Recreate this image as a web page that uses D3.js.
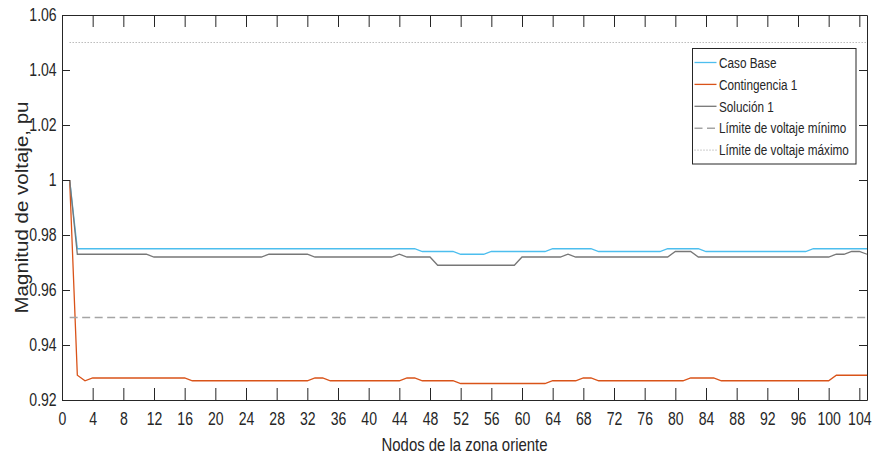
<!DOCTYPE html>
<html>
<head>
<meta charset="utf-8">
<script src="https://cdn.jsdelivr.net/npm/d3@7"></script>
<style>
  body { margin: 0; background: #fff; }
  svg { display: block; font-family: "Liberation Sans", Arial, sans-serif; }
  .axis text { fill: #262626; }
  .axis path, .axis line { stroke: #262626; }
</style>
</head>
<body>
<svg id="chart" width="873" height="454"></svg>
<script>
// voltage per node (pu), nodes 1..105, ten per row
const casoBase = [
  1.000, 0.975, 0.975, 0.975, 0.975, 0.975, 0.975, 0.975, 0.975, 0.975,
  0.975, 0.975, 0.975, 0.975, 0.975, 0.975, 0.975, 0.975, 0.975, 0.975,
  0.975, 0.975, 0.975, 0.975, 0.975, 0.975, 0.975, 0.975, 0.975, 0.975,
  0.975, 0.975, 0.975, 0.975, 0.975, 0.975, 0.975, 0.975, 0.975, 0.975,
  0.975, 0.975, 0.975, 0.975, 0.975, 0.975, 0.974, 0.974, 0.974, 0.974,
  0.974, 0.973, 0.973, 0.973, 0.973, 0.974, 0.974, 0.974, 0.974, 0.974,
  0.974, 0.974, 0.974, 0.975, 0.975, 0.975, 0.975, 0.975, 0.975, 0.974,
  0.974, 0.974, 0.974, 0.974, 0.974, 0.974, 0.974, 0.974, 0.975, 0.975,
  0.975, 0.975, 0.975, 0.974, 0.974, 0.974, 0.974, 0.974, 0.974, 0.974,
  0.974, 0.974, 0.974, 0.974, 0.974, 0.974, 0.974, 0.975, 0.975, 0.975,
  0.975, 0.975, 0.975, 0.975, 0.975
]
const contingencia1 = [
  1.000, 0.929, 0.927, 0.928, 0.928, 0.928, 0.928, 0.928, 0.928, 0.928,
  0.928, 0.928, 0.928, 0.928, 0.928, 0.928, 0.927, 0.927, 0.927, 0.927,
  0.927, 0.927, 0.927, 0.927, 0.927, 0.927, 0.927, 0.927, 0.927, 0.927,
  0.927, 0.927, 0.928, 0.928, 0.927, 0.927, 0.927, 0.927, 0.927, 0.927,
  0.927, 0.927, 0.927, 0.927, 0.928, 0.928, 0.927, 0.927, 0.927, 0.927,
  0.927, 0.926, 0.926, 0.926, 0.926, 0.926, 0.926, 0.926, 0.926, 0.926,
  0.926, 0.926, 0.926, 0.927, 0.927, 0.927, 0.927, 0.928, 0.928, 0.927,
  0.927, 0.927, 0.927, 0.927, 0.927, 0.927, 0.927, 0.927, 0.927, 0.927,
  0.927, 0.928, 0.928, 0.928, 0.928, 0.927, 0.927, 0.927, 0.927, 0.927,
  0.927, 0.927, 0.927, 0.927, 0.927, 0.927, 0.927, 0.927, 0.927, 0.927,
  0.929, 0.929, 0.929, 0.929, 0.929
]
const solucion1 = [
  1.000, 0.973, 0.973, 0.973, 0.973, 0.973, 0.973, 0.973, 0.973, 0.973,
  0.973, 0.972, 0.972, 0.972, 0.972, 0.972, 0.972, 0.972, 0.972, 0.972,
  0.972, 0.972, 0.972, 0.972, 0.972, 0.972, 0.973, 0.973, 0.973, 0.973,
  0.973, 0.973, 0.972, 0.972, 0.972, 0.972, 0.972, 0.972, 0.972, 0.972,
  0.972, 0.972, 0.972, 0.973, 0.972, 0.972, 0.972, 0.972, 0.969, 0.969,
  0.969, 0.969, 0.969, 0.969, 0.969, 0.969, 0.969, 0.969, 0.969, 0.972,
  0.972, 0.972, 0.972, 0.972, 0.972, 0.973, 0.972, 0.972, 0.972, 0.972,
  0.972, 0.972, 0.972, 0.972, 0.972, 0.972, 0.972, 0.972, 0.972, 0.974,
  0.974, 0.974, 0.972, 0.972, 0.972, 0.972, 0.972, 0.972, 0.972, 0.972,
  0.972, 0.972, 0.972, 0.972, 0.972, 0.972, 0.972, 0.972, 0.972, 0.972,
  0.973, 0.973, 0.974, 0.974, 0.973
]
const nodes = casoBase.map((_, i) => i + 1)

const vMin = 0.95, vMax = 1.05
const xTicks = [0, 4, 8, 12, 16, 20, 24, 28, 32, 36, 40, 44, 48, 52, 56, 60, 64, 68, 72, 76, 80, 84, 88, 92, 96, 100, 104]
const yTicks = [0.92, 0.94, 0.96, 0.98, 1.00, 1.02, 1.04, 1.06]

const series = [
  {name: "Caso Base", values: casoBase, color: "#4DBEEE", dash: null, width: 1.3},
  {name: "Contingencia 1", values: contingencia1, color: "#D95319", dash: null, width: 1.3},
  {name: "Solución 1", values: solucion1, color: "#777777", dash: null, width: 1.3},
  {name: "Límite de voltaje mínimo", values: nodes.map(() => vMin), color: "#a5a5a5", dash: "8,4.5", width: 1.5},
  {name: "Límite de voltaje máximo", values: nodes.map(() => vMax), color: "#9a9a9a", dash: "1,2", width: 1}
]

const margin = {top: 15, right: 6, bottom: 54, left: 62},
    width = 873, height = 454
const sq = 0.76  // picture looks squeezed sideways

const svg = d3.select("#chart")

const fx = d3.scaleLinear().domain([0, 105]).range([margin.left, width - margin.right])
const fy = d3.scaleLinear().domain([0.92, 1.06]).range([height - margin.bottom, margin.top])

// lines first, axes on top
const line = vals => d3.line()
    .x((d, i) => fx(nodes[i]))
    .y(d => fy(d))(vals)

series.forEach(s => {
    svg.append("path")
        .attr("fill", "none")
        .attr("stroke", s.color)
        .attr("stroke-width", s.width)
        .attr("stroke-dasharray", s.dash)
        .attr("d", line(s.values))
})

const yFmt = d => String(+d.toFixed(2))

const gx = svg.append("g")
    .attr("class", "axis")
    .attr("transform", "translate(0," + fy.range()[0] + ")")
    .call(d3.axisBottom(fx).tickValues(xTicks).tickSize(-12).tickSizeOuter(0).tickPadding(12))
gx.selectAll("text")
    .attr("font-size", 18.5)
    .attr("font-family", null)
    .attr("transform", "scale(" + sq + ",1)")

svg.append("g")
    .attr("class", "axis")
    .attr("transform", "translate(0," + fy.range()[1] + ")")
    .call(d3.axisTop(fx).tickValues(xTicks).tickSize(-12).tickSizeOuter(0).tickFormat(""))

const gy = svg.append("g")
    .attr("class", "axis")
    .attr("transform", "translate(" + fx.range()[0] + ",0)")
    .call(d3.axisLeft(fy).tickValues(yTicks).tickSize(-8).tickSizeOuter(0).tickPadding(7).tickFormat(yFmt))
gy.selectAll("text")
    .attr("font-size", 18.5)
    .attr("font-family", null)
    .attr("transform", "scale(" + sq + ",1)")

svg.append("g")
    .attr("class", "axis")
    .attr("transform", "translate(" + fx.range()[1] + ",0)")
    .call(d3.axisRight(fy).tickValues(yTicks).tickSize(-8).tickSizeOuter(0).tickFormat(""))

svg.selectAll(".axis path").attr("stroke-width", 1)

// axis titles
svg.append("text")
    .attr("transform", "translate(" + (fx(0) + fx(105)) / 2 + ",451) scale(0.83,1)")
    .attr("text-anchor", "middle")
    .attr("font-size", 18)
    .attr("fill", "#262626")
    .text("Nodos de la zona oriente")

svg.append("text")
    .attr("transform", "translate(28," + (fy(0.92) + fy(1.06)) / 2 + ") rotate(-90) scale(1,0.9)")
    .attr("text-anchor", "middle")
    .attr("font-size", 20.5)
    .attr("fill", "#262626")
    .text("Magnitud de voltaje, pu")

// legend
const lg = svg.append("g").attr("transform", "translate(692.5,48.5)")
lg.append("rect")
    .attr("width", 163.5).attr("height", 115.5)
    .attr("fill", "#fff").attr("stroke", "#262626").attr("stroke-width", 1)

series.forEach((s, i) => {
    const row = lg.append("g").attr("transform", "translate(0," + (14 + i * 21.9) + ")")
    row.append("line")
        .attr("x1", 2).attr("x2", 24)
        .attr("stroke", s.color)
        .attr("stroke-width", s.width)
        .attr("stroke-dasharray", s.dash)
    row.append("text")
        .attr("transform", "translate(26.5,0) scale(0.81,1)")
        .attr("dy", "0.36em")
        .attr("font-size", 14.5)
        .attr("fill", "#262626")
        .text(s.name)
})
</script>
</body>
</html>
